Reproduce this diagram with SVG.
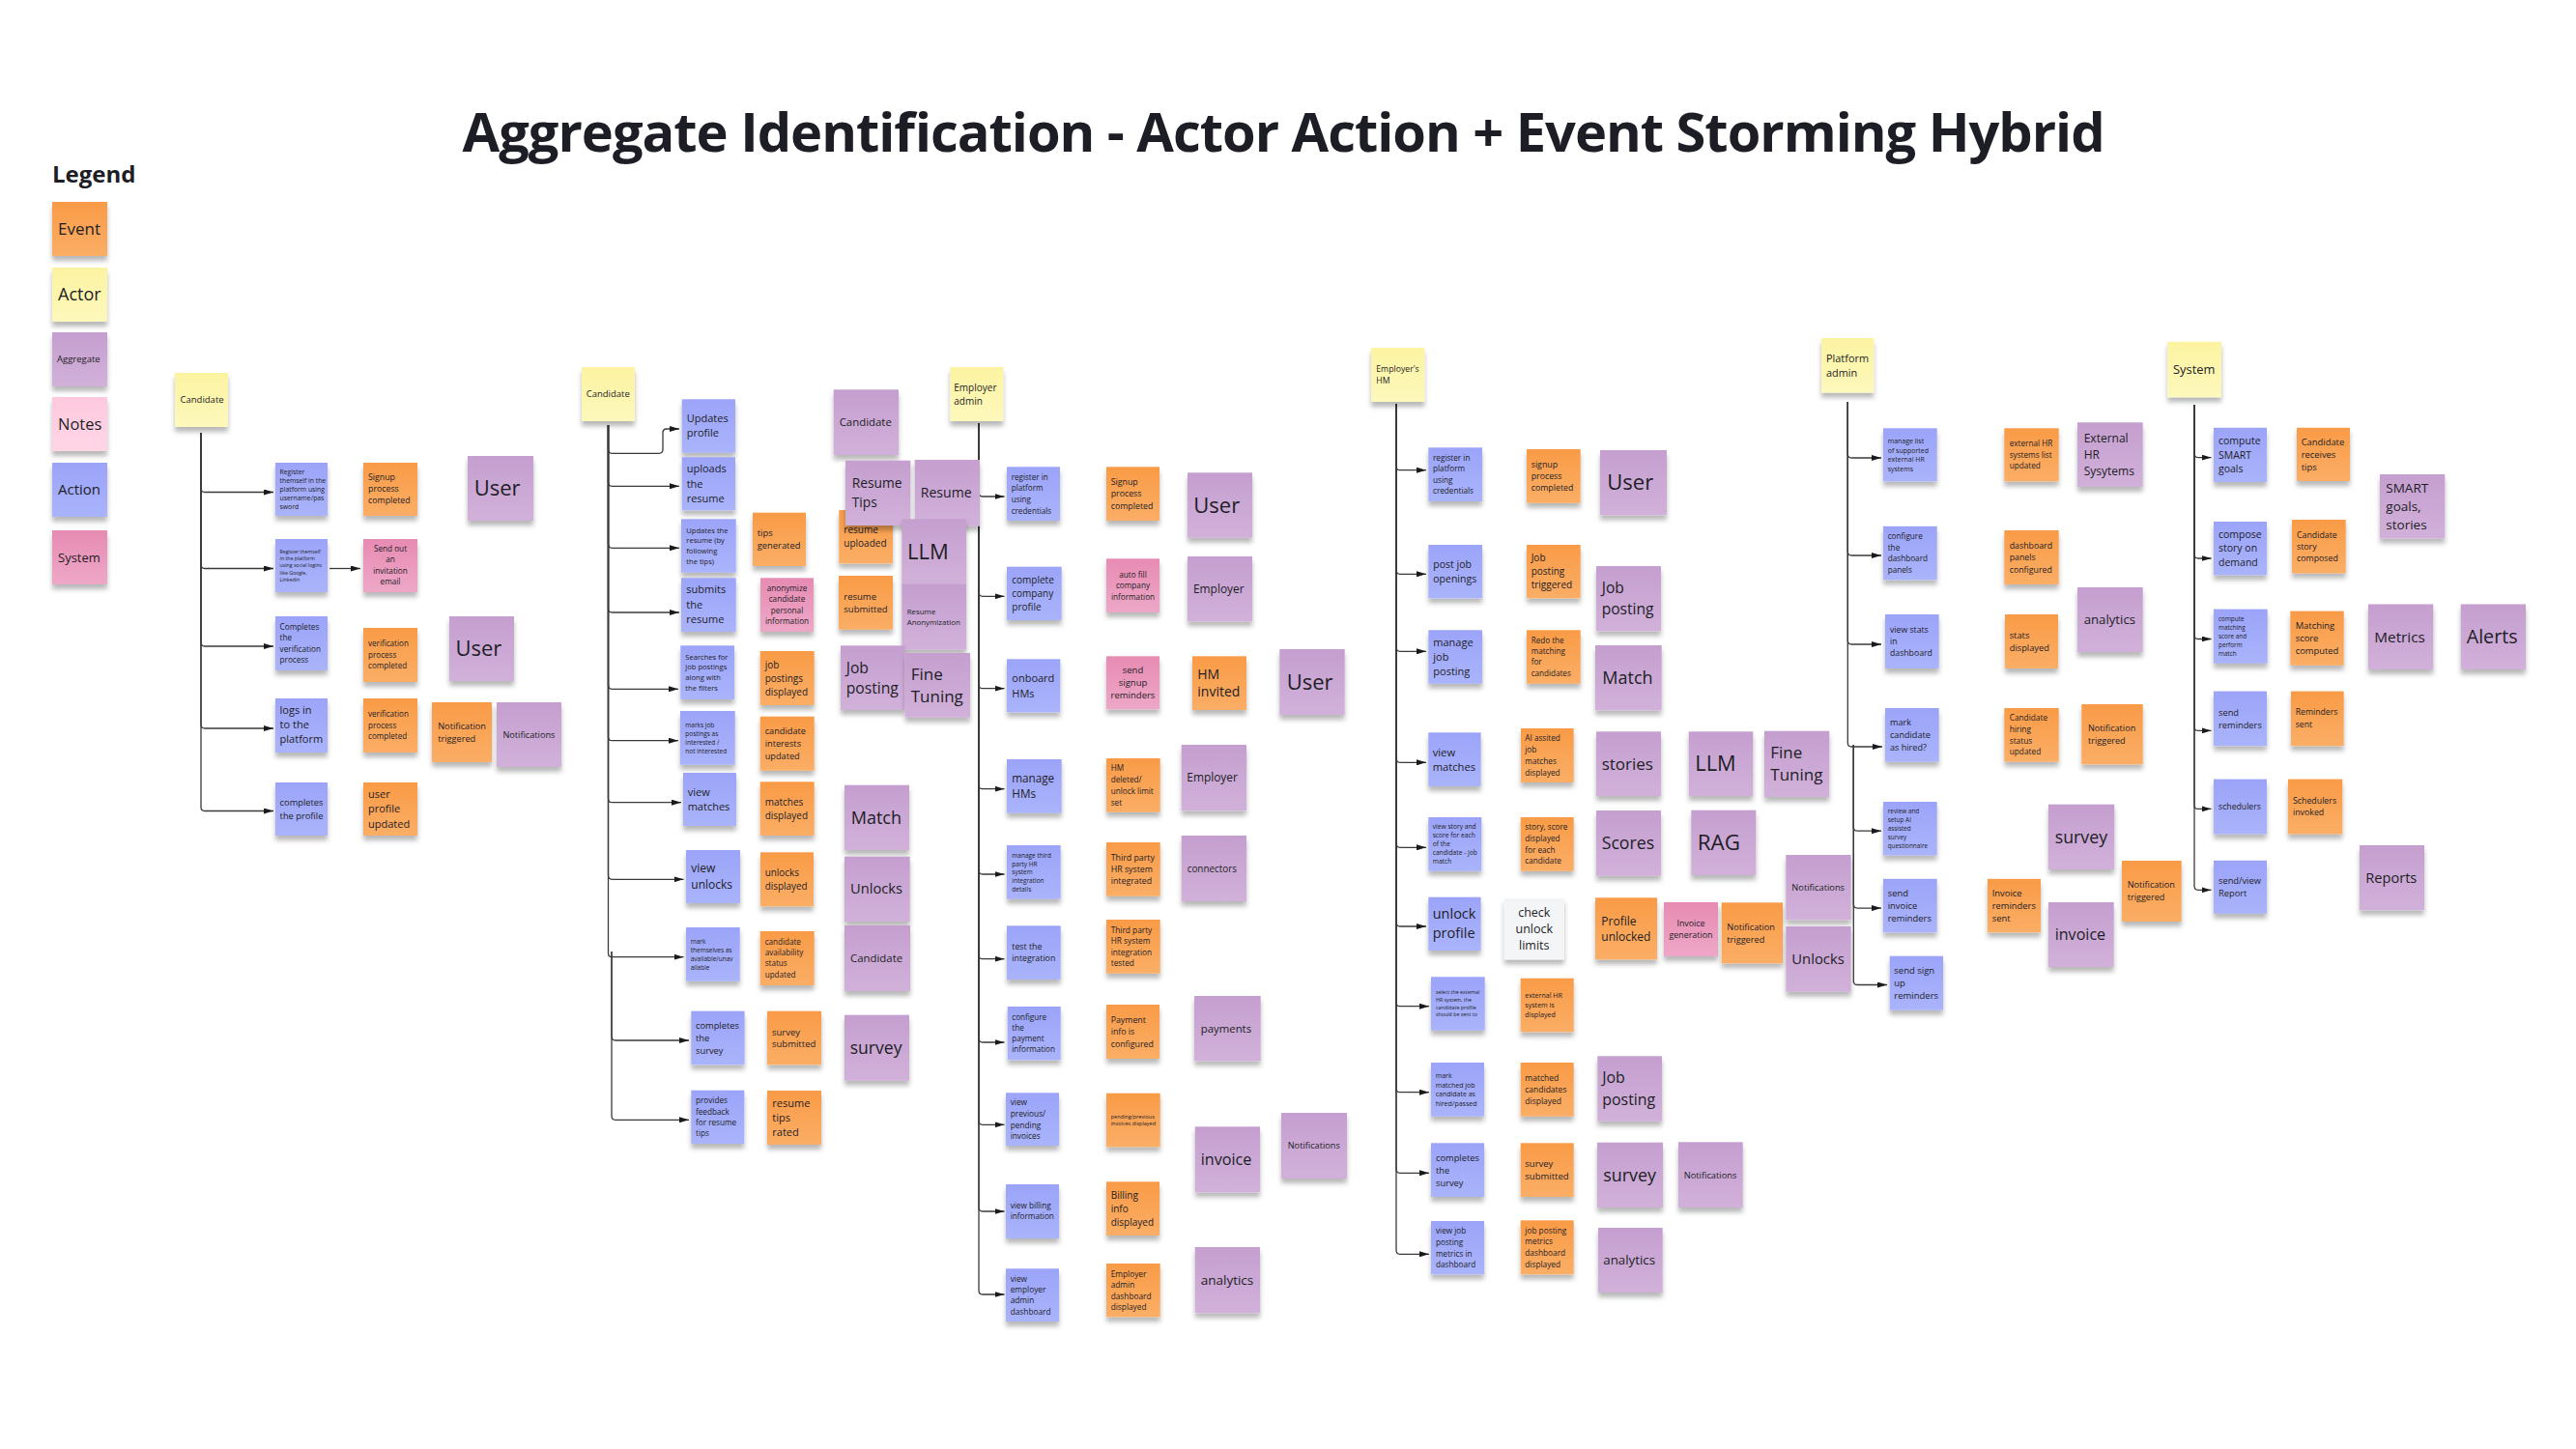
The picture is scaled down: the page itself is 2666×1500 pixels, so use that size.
<svg xmlns="http://www.w3.org/2000/svg" width="2666" height="1500" viewBox="0 0 2666 1500">
<defs>
<linearGradient id="gEv" x1="0" y1="0" x2="0" y2="1"><stop offset="0" stop-color="#F99B47"/><stop offset="1" stop-color="#FBAE66"/></linearGradient>
<linearGradient id="gAc" x1="0" y1="0" x2="0" y2="1"><stop offset="0" stop-color="#9BA4F8"/><stop offset="1" stop-color="#AAB4FB"/></linearGradient>
<linearGradient id="gAg" x1="0" y1="0" x2="0" y2="1"><stop offset="0" stop-color="#C59FCF"/><stop offset="1" stop-color="#D1B1DA"/></linearGradient>
<linearGradient id="gSy" x1="0" y1="0" x2="0" y2="1"><stop offset="0" stop-color="#E78BB3"/><stop offset="1" stop-color="#EEA8C7"/></linearGradient>
<linearGradient id="gAr" x1="0" y1="0" x2="0" y2="1"><stop offset="0" stop-color="#FCF3A1"/><stop offset="1" stop-color="#FDF8BC"/></linearGradient>
<linearGradient id="gNt" x1="0" y1="0" x2="0" y2="1"><stop offset="0" stop-color="#FFC9DD"/><stop offset="1" stop-color="#FFD6E6"/></linearGradient>
<filter id="sh" x="-20%" y="-20%" width="140%" height="150%"><feDropShadow dx="0" dy="5" stdDeviation="2.5" flood-color="#000" flood-opacity="0.28"/></filter>
<marker id="ah" viewBox="0 0 10 6" refX="10" refY="3" markerWidth="10" markerHeight="6" markerUnits="userSpaceOnUse" orient="auto"><path d="M0,0 L10,3 L0,6 z" fill="#1a1a1a"/></marker>
<style>
.t{font-family:"Open Sans","Liberation Sans",Arial,sans-serif;fill:#1d1d26}
.c{text-anchor:middle}
.b{font-weight:700}
.ev{fill:url(#gEv)}
.ac{fill:url(#gAc)}
.ag{fill:url(#gAg)}
.sy{fill:url(#gSy)}
.ar{fill:url(#gAr)}
.nt{fill:url(#gNt)}
.wh{fill:#f4f5f7}
g.n>rect{filter:url(#sh)}
.cn path{fill:none;stroke:#3a3a3a;stroke-width:1.3;marker-end:url(#ah)}
</style>
</defs>
<rect x="0" y="0" width="2666" height="1500" fill="#ffffff"/>
<text class="t b c" x="1328.6" y="156.7" font-size="56" textLength="1700" lengthAdjust="spacing">Aggregate Identification - Actor Action + Event Storming Hybrid</text>

<g id="legend">
<text class="t b" x="54" y="189" font-size="24">Legend</text>
<g id="lg-event" class="n"><rect class="ev" x="54" y="209" width="57" height="56"/><text class="t" x="60" y="243" font-size="17">Event</text></g>
<g id="lg-actor" class="n"><rect class="ar" x="54" y="277" width="57" height="56"/><text class="t" x="60" y="311" font-size="18">Actor</text></g>
<g id="lg-aggregate" class="n"><rect class="ag" x="54" y="344" width="57" height="56"/><text class="t" x="59" y="375" font-size="9.5">Aggregate</text></g>
<g id="lg-notes" class="n"><rect class="nt" x="54" y="411" width="57" height="56"/><text class="t" x="60" y="445" font-size="16.5">Notes</text></g>
<g id="lg-action" class="n"><rect class="ac" x="54" y="479" width="57" height="56"/><text class="t" x="60" y="512" font-size="15">Action</text></g>
<g id="lg-system" class="n"><rect class="sy" x="54" y="549" width="57" height="56"/><text class="t" x="60" y="581.5" font-size="13">System</text></g>
</g>

<g id="connectors" class="cn">
<path d="M208 448 V505.5 Q208 509.5 212 509.5 H283"/>
<path d="M208 448 V584.5 Q208 588.5 212 588.5 H283"/>
<path d="M208 448 V665 Q208 669 212 669 H283"/>
<path d="M208 448 V750 Q208 754 212 754 H283"/>
<path d="M208 448 V835.5 Q208 839.5 212 839.5 H283"/>
<path d="M341 588.5 H373"/>
<path d="M629.5 440 V465.3 Q629.5 469.3 633.5 469.3 H682 Q686 469.3 686 465.3 V448 Q686 444 690 444 H703"/>
<path d="M629.5 440 V499.3 Q629.5 503.3 633.5 503.3 H703"/>
<path d="M629.5 440 V563.3 Q629.5 567.3 633.5 567.3 H703"/>
<path d="M629.5 440 V630 Q629.5 634 633.5 634 H703"/>
<path d="M629.5 440 V709.3 Q629.5 713.3 633.5 713.3 H702"/>
<path d="M629.5 440 V762.7 Q629.5 766.7 633.5 766.7 H702"/>
<path d="M629.5 440 V826.7 Q629.5 830.7 633.5 830.7 H705"/>
<path d="M629.5 440 V906.3 Q629.5 910.3 633.5 910.3 H707.5"/>
<path d="M629.5 440 V986.7 Q629.5 990.7 633.5 990.7 H707.5"/>
<path d="M633 985 V1073 Q633 1077 637 1077 H713"/>
<path d="M633 985 V1155.3 Q633 1159.3 637 1159.3 H713"/>
<path d="M1013 438 V510 Q1013 514 1017 514 H1039.5"/>
<path d="M1013 438 V613.3 Q1013 617.3 1017 617.3 H1039.5"/>
<path d="M1013 438 V708.7 Q1013 712.7 1017 712.7 H1039.5"/>
<path d="M1013 438 V812.7 Q1013 816.7 1017 816.7 H1039.5"/>
<path d="M1013 438 V901 Q1013 905 1017 905 H1039.5"/>
<path d="M1013 438 V988.7 Q1013 992.7 1017 992.7 H1039.5"/>
<path d="M1013 438 V1075 Q1013 1079 1017 1079 H1039.5"/>
<path d="M1013 438 V1160.3 Q1013 1164.3 1017 1164.3 H1039.5"/>
<path d="M1013 438 V1250 Q1013 1254 1017 1254 H1039.5"/>
<path d="M1013 438 V1336 Q1013 1340 1017 1340 H1039.5"/>
<path d="M1445 418 V482.7 Q1445 486.7 1449 486.7 H1476"/>
<path d="M1445 418 V590.3 Q1445 594.3 1449 594.3 H1476"/>
<path d="M1445 418 V670.3 Q1445 674.3 1449 674.3 H1476"/>
<path d="M1445 418 V785.3 Q1445 789.3 1449 789.3 H1476"/>
<path d="M1445 418 V873.3 Q1445 877.3 1449 877.3 H1476"/>
<path d="M1445 418 V955 Q1445 959 1449 959 H1476"/>
<path d="M1445 418 V1037.7 Q1445 1041.7 1449 1041.7 H1479"/>
<path d="M1445 418 V1126.7 Q1445 1130.7 1449 1130.7 H1479"/>
<path d="M1445 418 V1210.3 Q1445 1214.3 1449 1214.3 H1479"/>
<path d="M1445 418 V1294.3 Q1445 1298.3 1449 1298.3 H1479"/>
<path d="M1912.3 416 V470 Q1912.3 474 1916.3 474 H1947"/>
<path d="M1912.3 416 V571 Q1912.3 575 1916.3 575 H1947"/>
<path d="M1912.3 416 V663 Q1912.3 667 1916.3 667 H1947"/>
<path d="M1912.3 416 V769 Q1912.3 773 1916.3 773 H1948"/>
<path d="M1918.3 771 V856.2 Q1918.3 860.2 1922.3 860.2 H1947"/>
<path d="M1918.3 771 V936.1 Q1918.3 940.1 1922.3 940.1 H1947"/>
<path d="M1918.3 771 V1015.5 Q1918.3 1019.5 1922.3 1019.5 H1953"/>
<path d="M2271 419 V469.6 Q2271 473.6 2275 473.6 H2288.5"/>
<path d="M2271 419 V574 Q2271 578 2275 578 H2288.5"/>
<path d="M2271 419 V657.5 Q2271 661.5 2275 661.5 H2288.5"/>
<path d="M2271 419 V752.4 Q2271 756.4 2275 756.4 H2288.5"/>
<path d="M2271 419 V833.4 Q2271 837.4 2275 837.4 H2288.5"/>
<path d="M2271 419 V917.3 Q2271 921.3 2275 921.3 H2288.5"/>
</g>

<!-- Candidate column 1 -->
<g id="c1-actor" class="n"><rect class="ar" x="181" y="386" width="55" height="56"/><text class="t" x="186.5" y="417" font-size="9.5">Candidate</text></g>
<g id="c1-a1" class="n"><rect class="ac" x="285" y="479" width="54" height="55"/><text class="t" x="289.6" y="490.5" font-size="6.8"><tspan>Register</tspan><tspan x="289.6" dy="9.2">themself in the</tspan><tspan x="289.6" dy="9.2">platform using</tspan><tspan x="289.6" dy="9.2">username/pas</tspan><tspan x="289.6" dy="9.2">sword</tspan></text></g>
<g id="c1-a2" class="n"><rect class="ac" x="285" y="558" width="54" height="55"/><text class="t" x="289.6" y="572.9" font-size="5.2"><tspan>Register themself</tspan><tspan x="289.6" dy="7.2">in the platform</tspan><tspan x="289.6" dy="7.2">using social logins</tspan><tspan x="289.6" dy="7.2">like Google,</tspan><tspan x="289.6" dy="7.2">Linkedin</tspan></text></g>
<g id="c1-a3" class="n"><rect class="ac" x="285" y="638" width="54" height="56"/><text class="t" x="289.6" y="652.1" font-size="8.2"><tspan>Completes</tspan><tspan x="289.6" dy="11.2">the</tspan><tspan x="289.6" dy="11.2">verification</tspan><tspan x="289.6" dy="11.2">process</tspan></text></g>
<g id="c1-a4" class="n"><rect class="ac" x="285" y="723" width="54" height="56"/><text class="t" x="289.6" y="739.4" font-size="11"><tspan>logs in</tspan><tspan x="289.6" dy="15">to the</tspan><tspan x="289.6" dy="15">platform</tspan></text></g>
<g id="c1-a5" class="n"><rect class="ac" x="285" y="810" width="54" height="55"/><text class="t" x="289.6" y="833.9" font-size="9.3"><tspan>completes</tspan><tspan x="289.6" dy="13.8">the profile</tspan></text></g>
<g id="c1-e1" class="n"><rect class="ev" x="376" y="479" width="56" height="55"/><text class="t" x="381" y="497" font-size="8.8"><tspan>Signup</tspan><tspan x="381" dy="12">process</tspan><tspan x="381" dy="12">completed</tspan></text></g>
<g id="c1-s2" class="n"><rect class="sy" x="376" y="558" width="56" height="55"/><text class="t c" x="404" y="570.6" font-size="8.2"><tspan>Send out</tspan><tspan x="404" dy="11.5">an</tspan><tspan x="404" dy="11.5">invitation</tspan><tspan x="404" dy="11.5">email</tspan></text></g>
<g id="c1-e3" class="n"><rect class="ev" x="376" y="650" width="56" height="56"/><text class="t" x="381" y="669.3" font-size="8.1"><tspan>verification</tspan><tspan x="381" dy="11.5">process</tspan><tspan x="381" dy="11.5">completed</tspan></text></g>
<g id="c1-e4" class="n"><rect class="ev" x="376" y="723" width="56" height="56"/><text class="t" x="381" y="742.3" font-size="8.1"><tspan>verification</tspan><tspan x="381" dy="11.5">process</tspan><tspan x="381" dy="11.5">completed</tspan></text></g>
<g id="c1-e5" class="n"><rect class="ev" x="376" y="810" width="56" height="55"/><text class="t" x="381" y="826" font-size="11"><tspan>user</tspan><tspan x="381" dy="15.4">profile</tspan><tspan x="381" dy="15.4">updated</tspan></text></g>
<g id="c1-g1" class="n"><rect class="ag" x="484" y="472" width="68" height="67"/><text class="t" x="490.7" y="513.2" font-size="22">User</text></g>
<g id="c1-g2" class="n"><rect class="ag" x="465" y="638" width="67" height="67"/><text class="t" x="471.4" y="679.2" font-size="22">User</text></g>
<g id="c1-e6" class="n"><rect class="ev" x="447" y="727" width="62" height="62"/><text class="t" x="453.2" y="754.6" font-size="9.2"><tspan>Notification</tspan><tspan x="453.2" dy="13.3">triggered</tspan></text></g>
<g id="c1-g3" class="n"><rect class="ag" x="514" y="727" width="67" height="67"/><text class="t" x="520.4" y="763.7" font-size="9.2">Notifications</text></g>

<!-- Candidate column 2 -->
<g id="c2-actor" class="n"><rect class="ar" x="602" y="380" width="55" height="56"/><text class="t" x="606.7" y="411.3" font-size="9.5">Candidate</text></g>
<g id="c2-a1" class="n"><rect class="ac" x="705.7" y="413.3" width="55.3" height="55.4"/><text class="t" x="710.7" y="437.3" font-size="11"><tspan>Updates</tspan><tspan x="710.7" dy="15">profile</tspan></text></g>
<g id="c2-a2" class="n"><rect class="ac" x="705.7" y="473.3" width="55.3" height="55"/><text class="t" x="710.7" y="489" font-size="11"><tspan>uploads</tspan><tspan x="710.7" dy="15.7">the</tspan><tspan x="710.7" dy="15.7">resume</tspan></text></g>
<g id="c2-a3" class="n"><rect class="ac" x="705" y="537.3" width="56.7" height="55.4"/><text class="t" x="710.3" y="551.7" font-size="7.6"><tspan>Updates the</tspan><tspan x="710.3" dy="10.7">resume (by</tspan><tspan x="710.3" dy="10.7">following</tspan><tspan x="710.3" dy="10.7">the tips)</tspan></text></g>
<g id="c2-a4" class="n"><rect class="ac" x="705" y="598.3" width="56.7" height="55.7"/><text class="t" x="710.3" y="614.4" font-size="11"><tspan>submits</tspan><tspan x="710.3" dy="15.5">the</tspan><tspan x="710.3" dy="15.5">resume</tspan></text></g>
<g id="c2-a5" class="n"><rect class="ac" x="704.3" y="668.3" width="55.7" height="55.7"/><text class="t" x="709.3" y="682.7" font-size="7.6"><tspan>Searches for</tspan><tspan x="709.3" dy="10.7">job postings</tspan><tspan x="709.3" dy="10.7">along with</tspan><tspan x="709.3" dy="10.7">the filters</tspan></text></g>
<g id="c2-a6" class="n"><rect class="ac" x="704" y="736" width="56.7" height="55.7"/><text class="t" x="709.3" y="752.6" font-size="6.5"><tspan>marks job</tspan><tspan x="709.3" dy="9.1">postings as</tspan><tspan x="709.3" dy="9.1">interested /</tspan><tspan x="709.3" dy="9.1">not interested</tspan></text></g>
<g id="c2-a7" class="n"><rect class="ac" x="707" y="800" width="55" height="55"/><text class="t" x="711.7" y="823.8" font-size="11"><tspan>view</tspan><tspan x="711.7" dy="15">matches</tspan></text></g>
<g id="c2-a8" class="n"><rect class="ac" x="710" y="880" width="56" height="55"/><text class="t" x="715.3" y="903.4" font-size="12"><tspan>view</tspan><tspan x="715.3" dy="16.7">unlocks</tspan></text></g>
<g id="c2-a9" class="n"><rect class="ac" x="710" y="960" width="55.7" height="55.7"/><text class="t" x="714.7" y="976.6" font-size="6.5"><tspan>mark</tspan><tspan x="714.7" dy="9.1">themselves as</tspan><tspan x="714.7" dy="9.1">available/unav</tspan><tspan x="714.7" dy="9.1">ailable</tspan></text></g>
<g id="c2-a10" class="n"><rect class="ac" x="715.3" y="1046.7" width="55.3" height="55.6"/><text class="t" x="720" y="1064.8" font-size="9.3"><tspan>completes</tspan><tspan x="720" dy="13">the</tspan><tspan x="720" dy="13">survey</tspan></text></g>
<g id="c2-a11" class="n"><rect class="ac" x="715.3" y="1128.7" width="55" height="55.3"/><text class="t" x="720" y="1142.2" font-size="8.2"><tspan>provides</tspan><tspan x="720" dy="11.3">feedback</tspan><tspan x="720" dy="11.3">for resume</tspan><tspan x="720" dy="11.3">tips</tspan></text></g>
<g id="c2-e1" class="n"><rect class="ev" x="779" y="530.7" width="55" height="55.3"/><text class="t" x="783.7" y="555.1" font-size="9.4"><tspan>tips</tspan><tspan x="783.7" dy="13">generated</tspan></text></g>
<g id="c2-s1" class="n"><rect class="sy" x="787" y="598.3" width="55" height="55.7"/><text class="t c" x="814.5" y="611.9" font-size="8.2"><tspan>anonymize</tspan><tspan x="814.5" dy="11.3">candidate</tspan><tspan x="814.5" dy="11.3">personal</tspan><tspan x="814.5" dy="11.3">information</tspan></text></g>
<g id="c2-e2" class="n"><rect class="ev" x="786.7" y="674" width="56" height="56"/><text class="t" x="791.7" y="691.5" font-size="10"><tspan>job</tspan><tspan x="791.7" dy="14">postings</tspan><tspan x="791.7" dy="14">displayed</tspan></text></g>
<g id="c2-e3" class="n"><rect class="ev" x="786.7" y="741.7" width="56" height="56"/><text class="t" x="791.7" y="759.9" font-size="9.2"><tspan>candidate</tspan><tspan x="791.7" dy="13">interests</tspan><tspan x="791.7" dy="13">updated</tspan></text></g>
<g id="c2-e4" class="n"><rect class="ev" x="786.7" y="809.3" width="56" height="55.7"/><text class="t" x="791.7" y="833.5" font-size="10"><tspan>matches</tspan><tspan x="791.7" dy="14">displayed</tspan></text></g>
<g id="c2-e5" class="n"><rect class="ev" x="787" y="882.3" width="55" height="56"/><text class="t" x="791.7" y="906.8" font-size="9.9"><tspan>unlocks</tspan><tspan x="791.7" dy="14">displayed</tspan></text></g>
<g id="c2-e6" class="n"><rect class="ev" x="786.7" y="964" width="56" height="56"/><text class="t" x="791.7" y="977.8" font-size="8.1"><tspan>candidate</tspan><tspan x="791.7" dy="11.3">availability</tspan><tspan x="791.7" dy="11.3">status</tspan><tspan x="791.7" dy="11.3">updated</tspan></text></g>
<g id="c2-e7" class="n"><rect class="ev" x="794" y="1046.7" width="56" height="55.6"/><text class="t" x="799" y="1071.5" font-size="9.5"><tspan>survey</tspan><tspan x="799" dy="12.7">submitted</tspan></text></g>
<g id="c2-e8" class="n"><rect class="ev" x="794" y="1129" width="56" height="56"/><text class="t" x="799.3" y="1145.9" font-size="11"><tspan>resume</tspan><tspan x="799.3" dy="15">tips</tspan><tspan x="799.3" dy="15">rated</tspan></text></g>
<g id="c2-e9" class="n"><rect class="ev" x="868.3" y="528" width="55.7" height="55.3"/><text class="t" x="873.3" y="552.2" font-size="10"><tspan>resume</tspan><tspan x="873.3" dy="14">uploaded</tspan></text></g>
<g id="c2-e10" class="n"><rect class="ev" x="868" y="596" width="56" height="55.7"/><text class="t" x="873.3" y="620.6" font-size="9.5"><tspan>resume</tspan><tspan x="873.3" dy="13">submitted</tspan></text></g>
<g id="c2-g1" class="n"><rect class="ag" x="862.7" y="403.3" width="67.3" height="67.7"/><text class="t" x="868.7" y="441" font-size="11.4">Candidate</text></g>
<g id="c2-g2" class="n"><rect class="ag" x="875" y="476.7" width="67.3" height="67.3"/><text class="t" x="881.7" y="505" font-size="13.8"><tspan>Resume</tspan><tspan x="881.7" dy="20.3">Tips</tspan></text></g>
<g id="c2-g3" class="n"><rect class="ag" x="946.7" y="476" width="67.3" height="68.7"/><text class="t" x="952.7" y="515.2" font-size="14.1">Resume</text></g>
<g id="c2-g4" class="n"><rect class="ag" x="933.3" y="537.3" width="66.7" height="67"/><text class="t" x="939" y="578.5" font-size="22">LLM</text></g>
<g id="c2-g5" class="n"><rect class="ag" x="933.3" y="604.3" width="66.7" height="68.4"/><text class="t" x="938.7" y="635.8" font-size="7.9"><tspan>Resume</tspan><tspan x="938.7" dy="11">Anonymization</tspan></text></g>
<g id="c2-g6" class="n"><rect class="ag" x="870" y="668.3" width="66.7" height="66.7"/><text class="t" x="875.7" y="696.7" font-size="15.7"><tspan>Job</tspan><tspan x="875.7" dy="21">posting</tspan></text></g>
<g id="c2-g7" class="n"><rect class="ag" x="936.7" y="676" width="67.3" height="66.7"/><text class="t" x="942.7" y="704" font-size="17"><tspan>Fine</tspan><tspan x="942.7" dy="22.7">Tuning</tspan></text></g>
<g id="c2-g8" class="n"><rect class="ag" x="874" y="812.7" width="67" height="67.3"/><text class="t" x="880.7" y="852.6" font-size="18">Match</text></g>
<g id="c2-g9" class="n"><rect class="ag" x="874" y="886.7" width="67.7" height="67.3"/><text class="t" x="880" y="925.4" font-size="14.7">Unlocks</text></g>
<g id="c2-g10" class="n"><rect class="ag" x="874" y="958" width="68" height="68"/><text class="t" x="880" y="996" font-size="11.4">Candidate</text></g>
<g id="c2-g11" class="n"><rect class="ag" x="874" y="1050.7" width="67" height="68"/><text class="t" x="879.7" y="1090.9" font-size="17.6">survey</text></g>

<!-- Employer admin -->
<g id="ea-actor" class="n"><rect class="ar" x="983.3" y="380" width="55" height="56"/><text class="t" x="987.3" y="404.5" font-size="10"><tspan>Employer</tspan><tspan x="987.3" dy="14">admin</tspan></text></g>
<g id="ea-a1" class="n"><rect class="ac" x="1042" y="483.3" width="55" height="55.7"/><text class="t" x="1046.7" y="496.6" font-size="8.1"><tspan>register in</tspan><tspan x="1046.7" dy="11.7">platform</tspan><tspan x="1046.7" dy="11.7">using</tspan><tspan x="1046.7" dy="11.7">credentials</tspan></text></g>
<g id="ea-a2" class="n"><rect class="ac" x="1042" y="586.7" width="56.7" height="55.3"/><text class="t" x="1047.3" y="603.8" font-size="10"><tspan>complete</tspan><tspan x="1047.3" dy="14">company</tspan><tspan x="1047.3" dy="14">profile</tspan></text></g>
<g id="ea-a3" class="n"><rect class="ac" x="1042" y="682.3" width="55.3" height="55"/><text class="t" x="1047.3" y="705.7" font-size="11"><tspan>onboard</tspan><tspan x="1047.3" dy="16">HMs</tspan></text></g>
<g id="ea-a4" class="n"><rect class="ac" x="1042" y="786" width="56.7" height="55.7"/><text class="t" x="1047.3" y="810.1" font-size="11.7"><tspan>manage</tspan><tspan x="1047.3" dy="15.7">HMs</tspan></text></g>
<g id="ea-a5" class="n"><rect class="ac" x="1042" y="875" width="55.7" height="55.7"/><text class="t" x="1047.3" y="887.9" font-size="6.5"><tspan>manage third</tspan><tspan x="1047.3" dy="8.7">party HR</tspan><tspan x="1047.3" dy="8.7">system</tspan><tspan x="1047.3" dy="8.7">integration</tspan><tspan x="1047.3" dy="8.7">details</tspan></text></g>
<g id="ea-a6" class="n"><rect class="ac" x="1042" y="958.3" width="55.7" height="55.7"/><text class="t" x="1047.3" y="983.3" font-size="8.8"><tspan>test the</tspan><tspan x="1047.3" dy="12">integration</tspan></text></g>
<g id="ea-a7" class="n"><rect class="ac" x="1042.7" y="1042" width="55" height="55.3"/><text class="t" x="1047.3" y="1055.7" font-size="8.1"><tspan>configure</tspan><tspan x="1047.3" dy="11.2">the</tspan><tspan x="1047.3" dy="11.2">payment</tspan><tspan x="1047.3" dy="11.2">information</tspan></text></g>
<g id="ea-a8" class="n"><rect class="ac" x="1041" y="1131.3" width="55" height="54.7"/><text class="t" x="1045.7" y="1144.1" font-size="8.3"><tspan>view</tspan><tspan x="1045.7" dy="11.7">previous/</tspan><tspan x="1045.7" dy="11.7">pending</tspan><tspan x="1045.7" dy="11.7">invoices</tspan></text></g>
<g id="ea-a9" class="n"><rect class="ac" x="1041" y="1226" width="55" height="56"/><text class="t" x="1045.7" y="1251.4" font-size="8.2"><tspan>view billing</tspan><tspan x="1045.7" dy="11">information</tspan></text></g>
<g id="ea-a10" class="n"><rect class="ac" x="1041" y="1313.3" width="55" height="54.7"/><text class="t" x="1045.7" y="1326.6" font-size="8.3"><tspan>view</tspan><tspan x="1045.7" dy="11.3">employer</tspan><tspan x="1045.7" dy="11.3">admin</tspan><tspan x="1045.7" dy="11.3">dashboard</tspan></text></g>
<g id="ea-e1" class="n"><rect class="ev" x="1145" y="483.3" width="55" height="55.7"/><text class="t" x="1149.7" y="501.9" font-size="8.8"><tspan>Signup</tspan><tspan x="1149.7" dy="12.5">process</tspan><tspan x="1149.7" dy="12.5">completed</tspan></text></g>
<g id="ea-s2" class="n"><rect class="sy" x="1145" y="578.3" width="55" height="55.7"/><text class="t c" x="1172.5" y="597.7" font-size="8.2"><tspan>auto fill</tspan><tspan x="1172.5" dy="11.5">company</tspan><tspan x="1172.5" dy="11.5">information</tspan></text></g>
<g id="ea-s3" class="n"><rect class="sy" x="1145" y="679.3" width="55" height="55"/><text class="t c" x="1172.5" y="697.3" font-size="9.5"><tspan>send</tspan><tspan x="1172.5" dy="13">signup</tspan><tspan x="1172.5" dy="13">reminders</tspan></text></g>
<g id="ea-e4" class="n"><rect class="ev" x="1145" y="785" width="55.7" height="55.7"/><text class="t" x="1149.7" y="798.4" font-size="8.2"><tspan>HM</tspan><tspan x="1149.7" dy="11.7">deleted/</tspan><tspan x="1149.7" dy="11.7">unlock limit</tspan><tspan x="1149.7" dy="11.7">set</tspan></text></g>
<g id="ea-e5" class="n"><rect class="ev" x="1145" y="872" width="55.7" height="55.7"/><text class="t" x="1149.7" y="891.1" font-size="8.8"><tspan>Third party</tspan><tspan x="1149.7" dy="12">HR system</tspan><tspan x="1149.7" dy="12">integrated</tspan></text></g>
<g id="ea-e6" class="n"><rect class="ev" x="1145" y="952" width="55.7" height="55.7"/><text class="t" x="1149.7" y="965.9" font-size="8.3"><tspan>Third party</tspan><tspan x="1149.7" dy="11.3">HR system</tspan><tspan x="1149.7" dy="11.3">integration</tspan><tspan x="1149.7" dy="11.3">tested</tspan></text></g>
<g id="ea-e7" class="n"><rect class="ev" x="1145" y="1040" width="55" height="56"/><text class="t" x="1149.7" y="1058.6" font-size="8.8"><tspan>Payment</tspan><tspan x="1149.7" dy="12.5">info is</tspan><tspan x="1149.7" dy="12.5">configured</tspan></text></g>
<g id="ea-e8" class="n"><rect class="ev" x="1145" y="1131.7" width="55.7" height="55.6"/><text class="t" x="1149.7" y="1157.8" font-size="5.5"><tspan>pending/previous</tspan><tspan x="1149.7" dy="7.3">invoices displayed</tspan></text></g>
<g id="ea-e9" class="n"><rect class="ev" x="1145" y="1223.3" width="55" height="55.7"/><text class="t" x="1149.7" y="1240.7" font-size="10"><tspan>Billing</tspan><tspan x="1149.7" dy="14">info</tspan><tspan x="1149.7" dy="14">displayed</tspan></text></g>
<g id="ea-e10" class="n"><rect class="ev" x="1145" y="1308" width="55.7" height="55.3"/><text class="t" x="1149.7" y="1321.5" font-size="8.3"><tspan>Employer</tspan><tspan x="1149.7" dy="11.6">admin</tspan><tspan x="1149.7" dy="11.6">dashboard</tspan><tspan x="1149.7" dy="11.6">displayed</tspan></text></g>
<g id="ea-g1" class="n"><rect class="ag" x="1229" y="489.3" width="67" height="67.4"/><text class="t" x="1235.3" y="530.7" font-size="22">User</text></g>
<g id="ea-g2" class="n"><rect class="ag" x="1229" y="576" width="67" height="67.3"/><text class="t" x="1235" y="613.9" font-size="11.9">Employer</text></g>
<g id="ea-e11" class="n"><rect class="ev" x="1234" y="679.3" width="56" height="55.7"/><text class="t" x="1239.3" y="702.7" font-size="14"><tspan>HM</tspan><tspan x="1239.3" dy="18.7">invited</tspan></text></g>
<g id="ea-g3" class="n"><rect class="ag" x="1324.3" y="672" width="67.4" height="68"/><text class="t" x="1331.7" y="713.7" font-size="22">User</text></g>
<g id="ea-g4" class="n"><rect class="ag" x="1222.7" y="771" width="67.3" height="68.3"/><text class="t" x="1228.3" y="809.2" font-size="11.9">Employer</text></g>
<g id="ea-g5" class="n"><rect class="ag" x="1222.7" y="865" width="67.3" height="68"/><text class="t" x="1228.7" y="902.5" font-size="9.9">connectors</text></g>
<g id="ea-g6" class="n"><rect class="ag" x="1236" y="1031" width="68.7" height="67.3"/><text class="t" x="1242.7" y="1068.7" font-size="11.4">payments</text></g>
<g id="ea-g7" class="n"><rect class="ag" x="1236.7" y="1166.3" width="67.3" height="68"/><text class="t" x="1242.7" y="1206" font-size="16.2">invoice</text></g>
<g id="ea-g8" class="n"><rect class="ag" x="1326" y="1152" width="68" height="68"/><text class="t" x="1332.7" y="1189.2" font-size="9.2">Notifications</text></g>
<g id="ea-g9" class="n"><rect class="ag" x="1236.7" y="1291" width="67.3" height="68.3"/><text class="t" x="1242.7" y="1329.9" font-size="13.5">analytics</text></g>

<!-- Employer's HM -->
<g id="hm-actor" class="n"><rect class="ar" x="1419" y="360" width="55.3" height="56"/><text class="t" x="1424.3" y="384.7" font-size="8.7"><tspan>Employer's</tspan><tspan x="1424.3" dy="12.7">HM</tspan></text></g>
<g id="hm-a1" class="n"><rect class="ac" x="1478.3" y="463.3" width="55.7" height="55.7"/><text class="t" x="1483" y="477.1" font-size="8.2"><tspan>register in</tspan><tspan x="1483" dy="11.3">platform</tspan><tspan x="1483" dy="11.3">using</tspan><tspan x="1483" dy="11.3">credentials</tspan></text></g>
<g id="hm-a2" class="n"><rect class="ac" x="1478.3" y="564" width="55.7" height="55.3"/><text class="t" x="1483.3" y="587.9" font-size="10.5"><tspan>post job</tspan><tspan x="1483.3" dy="15">openings</tspan></text></g>
<g id="hm-a3" class="n"><rect class="ac" x="1478.3" y="652.3" width="55.7" height="55.4"/><text class="t" x="1483.3" y="668.9" font-size="11"><tspan>manage</tspan><tspan x="1483.3" dy="15">job</tspan><tspan x="1483.3" dy="15">posting</tspan></text></g>
<g id="hm-a4" class="n"><rect class="ac" x="1478.3" y="758.3" width="54.3" height="55.7"/><text class="t" x="1482.7" y="782.6" font-size="11.2"><tspan>view</tspan><tspan x="1482.7" dy="15">matches</tspan></text></g>
<g id="hm-a5" class="n"><rect class="ac" x="1478.3" y="846" width="55" height="55.7"/><text class="t" x="1482.7" y="858.1" font-size="6.7"><tspan>view story and</tspan><tspan x="1482.7" dy="9">score for each</tspan><tspan x="1482.7" dy="9">of the</tspan><tspan x="1482.7" dy="9">candidate - job</tspan><tspan x="1482.7" dy="9">match</tspan></text></g>
<g id="hm-a6" class="n"><rect class="ac" x="1478.3" y="928.7" width="54.3" height="55.3"/><text class="t" x="1482.7" y="951.4" font-size="14.5"><tspan>unlock</tspan><tspan x="1482.7" dy="20">profile</tspan></text></g>
<g id="hm-a7" class="n"><rect class="ac" x="1481" y="1011.3" width="55.7" height="55.4"/><text class="t" x="1486" y="1029.3" font-size="5.3"><tspan>select the external</tspan><tspan x="1486" dy="7.7">HR system, the</tspan><tspan x="1486" dy="7.7">candidate profile</tspan><tspan x="1486" dy="7.7">should be sent to</tspan></text></g>
<g id="hm-a8" class="n"><rect class="ac" x="1481" y="1100" width="55" height="55.7"/><text class="t" x="1485.7" y="1115.8" font-size="7"><tspan>mark</tspan><tspan x="1485.7" dy="9.7">matched job</tspan><tspan x="1485.7" dy="9.7">candidate as</tspan><tspan x="1485.7" dy="9.7">hired/passed</tspan></text></g>
<g id="hm-a9" class="n"><rect class="ac" x="1481" y="1183.3" width="55" height="55.7"/><text class="t" x="1486" y="1201.5" font-size="9.3"><tspan>completes</tspan><tspan x="1486" dy="13">the</tspan><tspan x="1486" dy="13">survey</tspan></text></g>
<g id="hm-a10" class="n"><rect class="ac" x="1481" y="1264" width="55" height="55.3"/><text class="t" x="1486" y="1277.1" font-size="8.2"><tspan>view job</tspan><tspan x="1486" dy="11.7">posting</tspan><tspan x="1486" dy="11.7">metrics in</tspan><tspan x="1486" dy="11.7">dashboard</tspan></text></g>
<g id="hm-e1" class="n"><rect class="ev" x="1580" y="465" width="55.7" height="55.7"/><text class="t" x="1584.7" y="483.9" font-size="8.8"><tspan>signup</tspan><tspan x="1584.7" dy="12">process</tspan><tspan x="1584.7" dy="12">completed</tspan></text></g>
<g id="hm-e2" class="n"><rect class="ev" x="1580" y="564" width="55.7" height="55.3"/><text class="t" x="1584.7" y="581.2" font-size="10"><tspan>Job</tspan><tspan x="1584.7" dy="14">posting</tspan><tspan x="1584.7" dy="14">triggered</tspan></text></g>
<g id="hm-e3" class="n"><rect class="ev" x="1580" y="652.3" width="55.7" height="55.4"/><text class="t" x="1584.7" y="665.8" font-size="8.1"><tspan>Redo the</tspan><tspan x="1584.7" dy="11.3">matching</tspan><tspan x="1584.7" dy="11.3">for</tspan><tspan x="1584.7" dy="11.3">candidates</tspan></text></g>
<g id="hm-e4" class="n"><rect class="ev" x="1574" y="754" width="54.7" height="56"/><text class="t" x="1578.3" y="767.4" font-size="8.2"><tspan>AI assited</tspan><tspan x="1578.3" dy="11.7">job</tspan><tspan x="1578.3" dy="11.7">matches</tspan><tspan x="1578.3" dy="11.7">displayed</tspan></text></g>
<g id="hm-e5" class="n"><rect class="ev" x="1573.7" y="846" width="55" height="55.7"/><text class="t" x="1578.3" y="859.2" font-size="8.2"><tspan>story, score</tspan><tspan x="1578.3" dy="11.7">displayed</tspan><tspan x="1578.3" dy="11.7">for each</tspan><tspan x="1578.3" dy="11.7">candidate</tspan></text></g>
<g id="hm-w6" class="n"><rect class="wh" x="1556.7" y="930" width="62.3" height="63.3"/><text class="t c" x="1587.8" y="949.1" font-size="12.5"><tspan>check</tspan><tspan x="1587.8" dy="17">unlock</tspan><tspan x="1587.8" dy="17">limits</tspan></text></g>
<g id="hm-e7" class="n"><rect class="ev" x="1573.7" y="1012.7" width="55" height="55.6"/><text class="t" x="1578.3" y="1033" font-size="7.1"><tspan>external HR</tspan><tspan x="1578.3" dy="10">system is</tspan><tspan x="1578.3" dy="10">displayed</tspan></text></g>
<g id="hm-e8" class="n"><rect class="ev" x="1573.7" y="1100" width="55" height="55.7"/><text class="t" x="1578.3" y="1118.8" font-size="8.5"><tspan>matched</tspan><tspan x="1578.3" dy="12">candidates</tspan><tspan x="1578.3" dy="12">displayed</tspan></text></g>
<g id="hm-e9" class="n"><rect class="ev" x="1573.7" y="1183.3" width="55" height="55.7"/><text class="t" x="1578.3" y="1208" font-size="9.5"><tspan>survey</tspan><tspan x="1578.3" dy="13">submitted</tspan></text></g>
<g id="hm-e10" class="n"><rect class="ev" x="1573.7" y="1263.3" width="55" height="56"/><text class="t" x="1578.3" y="1276.8" font-size="8.3"><tspan>job posting</tspan><tspan x="1578.3" dy="11.6">metrics</tspan><tspan x="1578.3" dy="11.6">dashboard</tspan><tspan x="1578.3" dy="11.6">displayed</tspan></text></g>
<g id="hm-g1" class="n"><rect class="ag" x="1656" y="466" width="69" height="67.3"/><text class="t" x="1663.3" y="507.4" font-size="22">User</text></g>
<g id="hm-g2" class="n"><rect class="ag" x="1652" y="586" width="67" height="67.3"/><text class="t" x="1657.7" y="614" font-size="15.6"><tspan>Job</tspan><tspan x="1657.7" dy="22.3">posting</tspan></text></g>
<g id="hm-g3" class="n"><rect class="ag" x="1651" y="668" width="68.7" height="67.3"/><text class="t" x="1658.3" y="708" font-size="18">Match</text></g>
<g id="hm-g4" class="n"><rect class="ag" x="1652" y="757.3" width="67" height="66.7"/><text class="t" x="1657.7" y="796.7" font-size="17">stories</text></g>
<g id="hm-g5" class="n"><rect class="ag" x="1747.7" y="757.3" width="66.6" height="66.7"/><text class="t" x="1754.3" y="798.3" font-size="21.8">LLM</text></g>
<g id="hm-g6" class="n"><rect class="ag" x="1826" y="756.7" width="67.3" height="68.3"/><text class="t" x="1832.3" y="785.1" font-size="17"><tspan>Fine</tspan><tspan x="1832.3" dy="23.3">Tuning</tspan></text></g>
<g id="hm-g7" class="n"><rect class="ag" x="1652" y="839" width="67" height="67.7"/><text class="t" x="1657.7" y="879" font-size="17.7">Scores</text></g>
<g id="hm-g8" class="n"><rect class="ag" x="1750.3" y="838.7" width="67" height="67.3"/><text class="t" x="1756.7" y="880.1" font-size="22.4">RAG</text></g>
<g id="hm-e11" class="n"><rect class="ev" x="1651" y="929.3" width="64" height="64"/><text class="t" x="1657.3" y="957.5" font-size="12"><tspan>Profile</tspan><tspan x="1657.3" dy="16">unlocked</tspan></text></g>
<g id="hm-s12" class="n"><rect class="sy" x="1722" y="934" width="56" height="56"/><text class="t c" x="1750" y="959" font-size="8.9"><tspan>Invoice</tspan><tspan x="1750" dy="12.3">generation</tspan></text></g>
<g id="hm-e13" class="n"><rect class="ev" x="1781.7" y="934.3" width="63.3" height="63"/><text class="t" x="1787.3" y="962.5" font-size="9.2"><tspan>Notification</tspan><tspan x="1787.3" dy="13">triggered</tspan></text></g>
<g id="hm-g9" class="n"><rect class="ag" x="1848.3" y="885" width="67.4" height="67.3"/><text class="t" x="1854.3" y="922" font-size="9.3">Notifications</text></g>
<g id="hm-g10" class="n"><rect class="ag" x="1848.3" y="959" width="67.4" height="67.7"/><text class="t" x="1854.3" y="998" font-size="14.8">Unlocks</text></g>
<g id="hm-g11" class="n"><rect class="ag" x="1653.3" y="1093.3" width="66.7" height="67.4"/><text class="t" x="1658.3" y="1121.4" font-size="15.9"><tspan>Job</tspan><tspan x="1658.3" dy="22.3">posting</tspan></text></g>
<g id="hm-g12" class="n"><rect class="ag" x="1653" y="1182.7" width="68" height="67.3"/><text class="t" x="1659.3" y="1222.6" font-size="17.9">survey</text></g>
<g id="hm-g13" class="n"><rect class="ag" x="1737" y="1182.3" width="66.7" height="67.7"/><text class="t" x="1742.7" y="1219.5" font-size="9.3">Notifications</text></g>
<g id="hm-g14" class="n"><rect class="ag" x="1654" y="1271" width="66.7" height="67"/><text class="t" x="1659.3" y="1309.2" font-size="13.3">analytics</text></g>

<!-- Platform admin -->
<g id="pa-actor" class="n"><rect class="ar" x="1885" y="350" width="54.3" height="56.6"/><text class="t" x="1890" y="374.5" font-size="10.9"><tspan>Platform</tspan><tspan x="1890" dy="15.2">admin</tspan></text></g>
<g id="pa-a1" class="n"><rect class="ac" x="1949" y="443.3" width="55.7" height="55.1"/><text class="t" x="1953.7" y="458.7" font-size="7"><tspan>manage list</tspan><tspan x="1953.7" dy="9.8">of supported</tspan><tspan x="1953.7" dy="9.8">external HR</tspan><tspan x="1953.7" dy="9.8">systems</tspan></text></g>
<g id="pa-a2" class="n"><rect class="ac" x="1949" y="544.8" width="55.7" height="55.5"/><text class="t" x="1953.7" y="558" font-size="8.2"><tspan>configure</tspan><tspan x="1953.7" dy="11.6">the</tspan><tspan x="1953.7" dy="11.6">dashboard</tspan><tspan x="1953.7" dy="11.6">panels</tspan></text></g>
<g id="pa-a3" class="n"><rect class="ac" x="1951" y="636" width="55.7" height="56"/><text class="t" x="1956" y="654.6" font-size="8.7"><tspan>view stats</tspan><tspan x="1956" dy="12.4">in</tspan><tspan x="1956" dy="12.4">dashboard</tspan></text></g>
<g id="pa-a4" class="n"><rect class="ac" x="1951" y="733" width="55.7" height="55.6"/><text class="t" x="1956" y="750.9" font-size="9.1"><tspan>mark</tspan><tspan x="1956" dy="13.1">candidate</tspan><tspan x="1956" dy="13.1">as hired?</tspan></text></g>
<g id="pa-a5" class="n"><rect class="ac" x="1949" y="830" width="55.7" height="55.5"/><text class="t" x="1953.7" y="842" font-size="6.4"><tspan>review and</tspan><tspan x="1953.7" dy="9">setup AI</tspan><tspan x="1953.7" dy="9">assisted</tspan><tspan x="1953.7" dy="9">survey</tspan><tspan x="1953.7" dy="9">questionnaire</tspan></text></g>
<g id="pa-a6" class="n"><rect class="ac" x="1949" y="909.8" width="55.7" height="55.5"/><text class="t" x="1953.7" y="927.9" font-size="9.4"><tspan>send</tspan><tspan x="1953.7" dy="12.9">invoice</tspan><tspan x="1953.7" dy="12.9">reminders</tspan></text></g>
<g id="pa-a7" class="n"><rect class="ac" x="1955.7" y="989.7" width="55.3" height="56"/><text class="t" x="1960.3" y="1008.1" font-size="9.5"><tspan>send sign</tspan><tspan x="1960.3" dy="12.9">up</tspan><tspan x="1960.3" dy="12.9">reminders</tspan></text></g>
<g id="pa-e1" class="n"><rect class="ev" x="2074.3" y="443.3" width="56.4" height="55.1"/><text class="t" x="2079.7" y="462.3" font-size="8.2"><tspan>external HR</tspan><tspan x="2079.7" dy="11.5">systems list</tspan><tspan x="2079.7" dy="11.5">updated</tspan></text></g>
<g id="pa-e2" class="n"><rect class="ev" x="2074.3" y="549" width="56.4" height="56"/><text class="t" x="2079.7" y="567.5" font-size="8.8"><tspan>dashboard</tspan><tspan x="2079.7" dy="12.6">panels</tspan><tspan x="2079.7" dy="12.6">configured</tspan></text></g>
<g id="pa-e3" class="n"><rect class="ev" x="2075" y="636" width="55" height="56"/><text class="t" x="2079.7" y="660.8" font-size="9.3"><tspan>stats</tspan><tspan x="2079.7" dy="12.9">displayed</tspan></text></g>
<g id="pa-e4" class="n"><rect class="ev" x="2074.3" y="733" width="56.4" height="55.6"/><text class="t" x="2079.7" y="746.3" font-size="8.3"><tspan>Candidate</tspan><tspan x="2079.7" dy="11.6">hiring</tspan><tspan x="2079.7" dy="11.6">status</tspan><tspan x="2079.7" dy="11.6">updated</tspan></text></g>
<g id="pa-e5" class="n"><rect class="ev" x="2057" y="909.8" width="55" height="55.5"/><text class="t" x="2061.7" y="927.9" font-size="9.4"><tspan>Invoice</tspan><tspan x="2061.7" dy="12.9">reminders</tspan><tspan x="2061.7" dy="12.9">sent</tspan></text></g>
<g id="pa-g1" class="n"><rect class="ag" x="2150" y="437.3" width="67.7" height="66.7"/><text class="t" x="2156.7" y="457.7" font-size="12"><tspan>External</tspan><tspan x="2156.7" dy="17.2">HR</tspan><tspan x="2156.7" dy="17.2">Sysytems</tspan></text></g>
<g id="pa-g2" class="n"><rect class="ag" x="2150" y="608" width="67.7" height="67"/><text class="t" x="2156.7" y="646.1" font-size="13.2">analytics</text></g>
<g id="pa-e6" class="n"><rect class="ev" x="2154.3" y="729" width="63.4" height="62.3"/><text class="t" x="2161" y="756.7" font-size="9.1"><tspan>Notification</tspan><tspan x="2161" dy="13.3">triggered</tspan></text></g>
<g id="pa-g3" class="n"><rect class="ag" x="2120" y="832.7" width="68.3" height="67.3"/><text class="t" x="2126.7" y="872.5" font-size="17.8">survey</text></g>
<g id="pa-g4" class="n"><rect class="ag" x="2120" y="934" width="67.7" height="67"/><text class="t" x="2126.7" y="973.1" font-size="16.1">invoice</text></g>
<g id="pa-e7" class="n"><rect class="ev" x="2196" y="891" width="61.7" height="63"/><text class="t" x="2201.7" y="919" font-size="9.1"><tspan>Notification</tspan><tspan x="2201.7" dy="13.3">triggered</tspan></text></g>

<!-- System -->
<g id="sys-actor" class="n"><rect class="ar" x="2243.3" y="353.8" width="55.7" height="57.4"/><text class="t" x="2249" y="387" font-size="12.9">System</text></g>
<g id="sys-a1" class="n"><rect class="ac" x="2291" y="442.8" width="55" height="56.2"/><text class="t" x="2296" y="460" font-size="10.5"><tspan>compute</tspan><tspan x="2296" dy="14.6">SMART</tspan><tspan x="2296" dy="14.6">goals</tspan></text></g>
<g id="sys-a2" class="n"><rect class="ac" x="2291" y="540" width="55" height="55.4"/><text class="t" x="2296" y="557.2" font-size="10.5"><tspan>compose</tspan><tspan x="2296" dy="14.2">story on</tspan><tspan x="2296" dy="14.2">demand</tspan></text></g>
<g id="sys-a3" class="n"><rect class="ac" x="2291" y="630.6" width="55.7" height="56.2"/><text class="t" x="2296" y="642.9" font-size="6.4"><tspan>compute</tspan><tspan x="2296" dy="9">matching</tspan><tspan x="2296" dy="9">score and</tspan><tspan x="2296" dy="9">perform</tspan><tspan x="2296" dy="9">match</tspan></text></g>
<g id="sys-a4" class="n"><rect class="ac" x="2291" y="715.6" width="55" height="56.6"/><text class="t" x="2296" y="740.8" font-size="9.3"><tspan>send</tspan><tspan x="2296" dy="12.7">reminders</tspan></text></g>
<g id="sys-a5" class="n"><rect class="ac" x="2291" y="806.6" width="55" height="56.9"/><text class="t" x="2296" y="838" font-size="8.7">schedulers</text></g>
<g id="sys-a6" class="n"><rect class="ac" x="2291" y="890.8" width="55" height="55"/><text class="t" x="2296" y="915.1" font-size="9.3"><tspan>send/view</tspan><tspan x="2296" dy="13">Report</tspan></text></g>
<g id="sys-e1" class="n"><rect class="ev" x="2377" y="442.8" width="55" height="55.2"/><text class="t" x="2381.7" y="460.5" font-size="9.4"><tspan>Candidate</tspan><tspan x="2381.7" dy="13.2">receives</tspan><tspan x="2381.7" dy="13.2">tips</tspan></text></g>
<g id="sys-e2" class="n"><rect class="ev" x="2372" y="538" width="55.7" height="55.5"/><text class="t" x="2377" y="556.6" font-size="8.8"><tspan>Candidate</tspan><tspan x="2377" dy="12.3">story</tspan><tspan x="2377" dy="12.3">composed</tspan></text></g>
<g id="sys-e3" class="n"><rect class="ev" x="2370.3" y="632.6" width="55.4" height="56.2"/><text class="t" x="2375.7" y="651" font-size="9.4"><tspan>Matching</tspan><tspan x="2375.7" dy="13">score</tspan><tspan x="2375.7" dy="13">computed</tspan></text></g>
<g id="sys-e4" class="n"><rect class="ev" x="2371" y="715.6" width="54.7" height="56.6"/><text class="t" x="2375.7" y="740.4" font-size="8.7"><tspan>Reminders</tspan><tspan x="2375.7" dy="13">sent</tspan></text></g>
<g id="sys-e5" class="n"><rect class="ev" x="2368" y="806.6" width="56.3" height="56.9"/><text class="t" x="2373" y="832.2" font-size="8.8"><tspan>Schedulers</tspan><tspan x="2373" dy="11.9">invoked</tspan></text></g>
<g id="sys-g1" class="n"><rect class="ag" x="2463" y="491" width="67.3" height="66.5"/><text class="t" x="2469.3" y="510.4" font-size="13.5"><tspan>SMART</tspan><tspan x="2469.3" dy="18.6">goals,</tspan><tspan x="2469.3" dy="18.6">stories</tspan></text></g>
<g id="sys-g2" class="n"><rect class="ag" x="2451" y="625.5" width="67.3" height="67.5"/><text class="t" x="2457.3" y="664.7" font-size="15.3">Metrics</text></g>
<g id="sys-g3" class="n"><rect class="ag" x="2546.7" y="625.5" width="67.3" height="67.5"/><text class="t" x="2552.7" y="666.2" font-size="19.7">Alerts</text></g>
<g id="sys-g4" class="n"><rect class="ag" x="2442" y="875" width="67" height="67.2"/><text class="t" x="2448.3" y="913.7" font-size="14.6">Reports</text></g>
</svg>
